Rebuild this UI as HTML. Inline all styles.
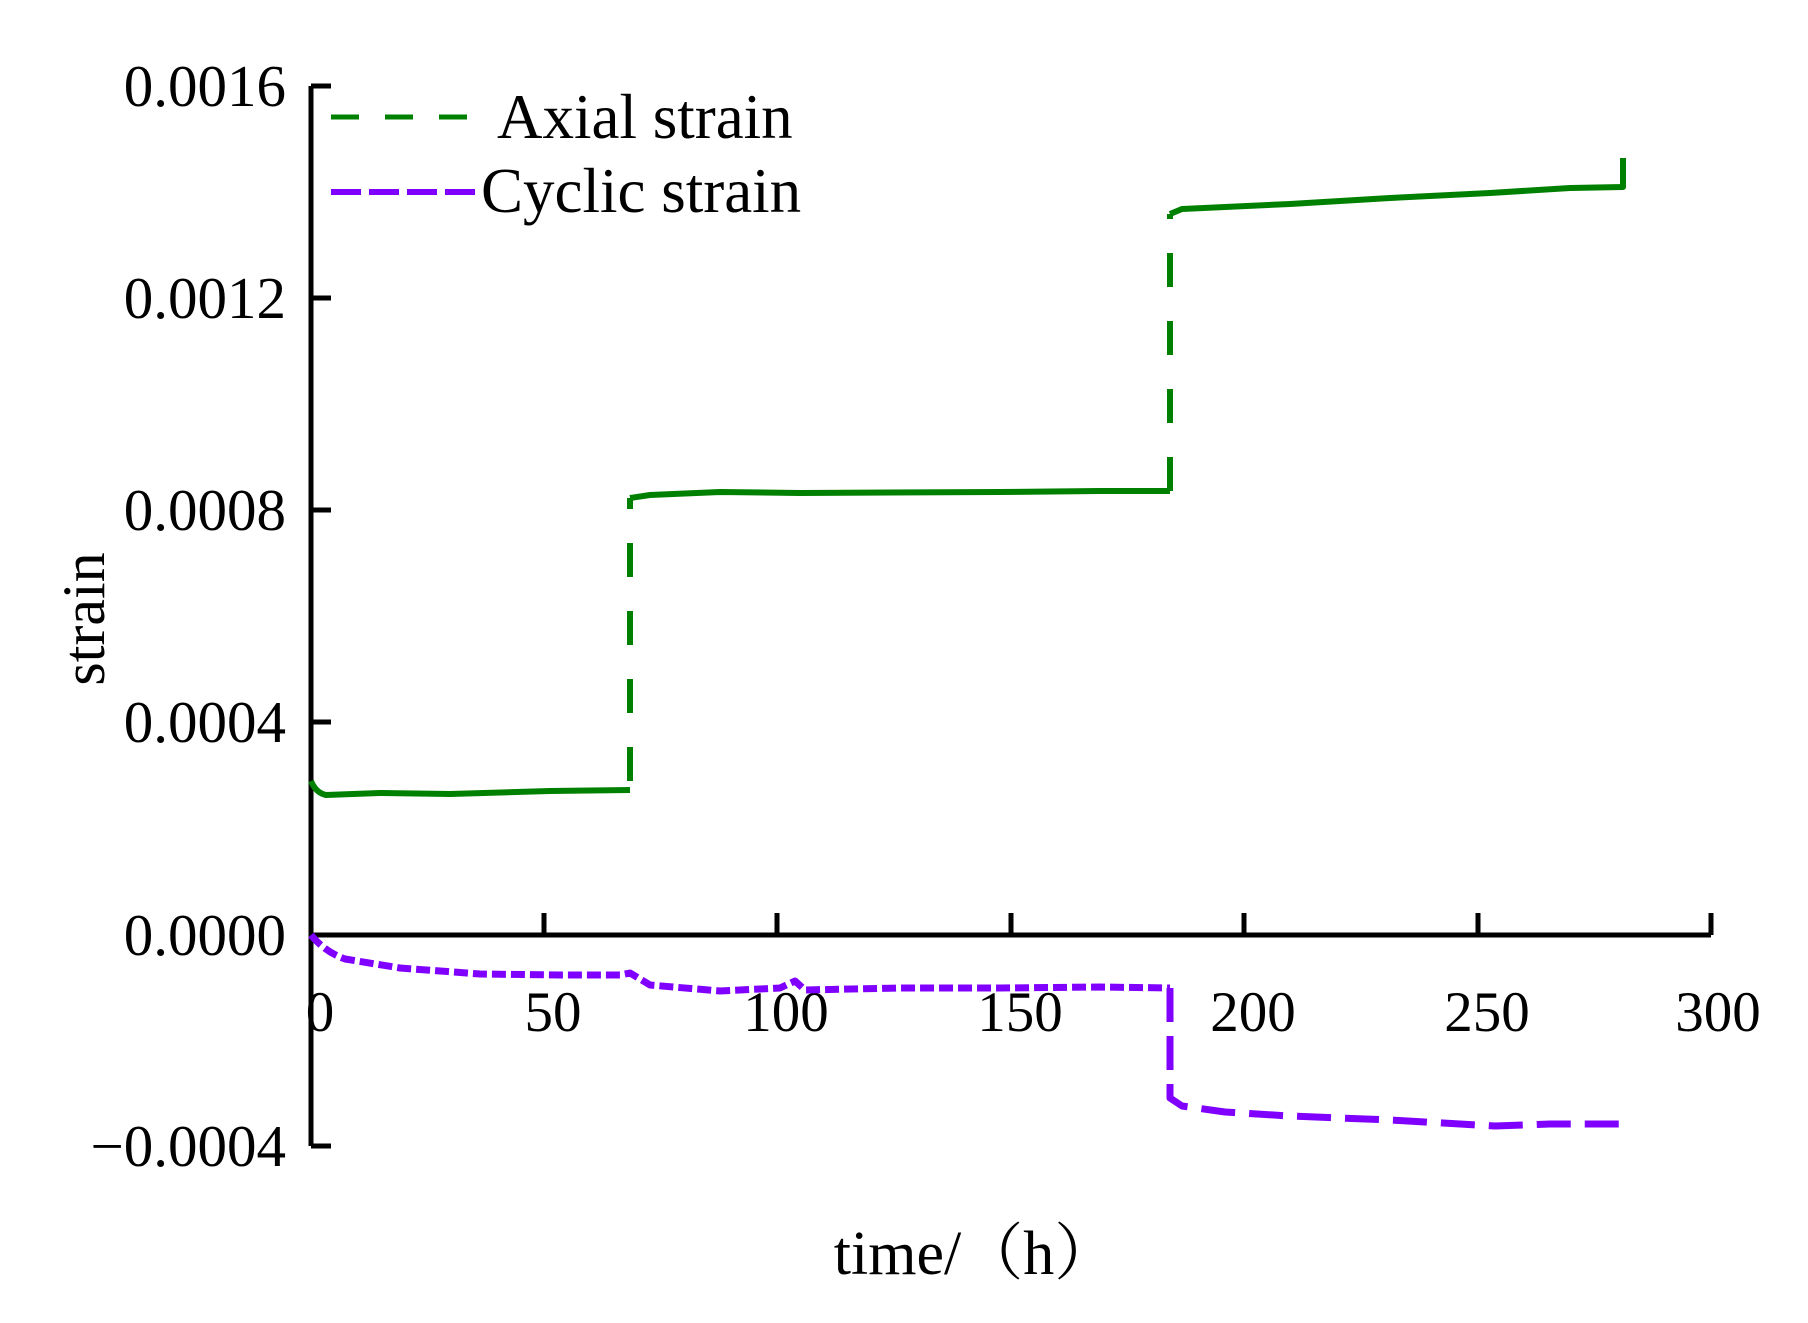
<!DOCTYPE html>
<html><head><meta charset="utf-8"><style>html,body{margin:0;padding:0;background:#fff}svg{display:block}</style></head>
<body>
<svg width="1808" height="1323" viewBox="0 0 1808 1323" xmlns="http://www.w3.org/2000/svg" font-family="'Liberation Serif', 'Noto Serif CJK SC', serif">
<rect width="1808" height="1323" fill="#fff"/>
<g stroke="#000" stroke-width="5" fill="none">
<path d="M311,86 V1146"/>
<path d="M311,935 H1711"/>
<path d="M311,86 H331 M311,298 H331 M311,510 H331 M311,722 H331 M311,1146 H331"/>
<path d="M544,935 V913 M777,935 V913 M1011,935 V913 M1244,935 V913 M1478,935 V913 M1711,935 V913"/>
</g>
<g font-size="59" fill="#000" text-anchor="end">
<text x="286" y="106">0.0016</text>
<text x="286" y="318">0.0012</text>
<text x="286" y="530">0.0008</text>
<text x="286" y="742">0.0004</text>
<text x="286" y="955">0.0000</text>
<text x="286" y="1166">−0.0004</text>
</g>
<g font-size="57" fill="#000" text-anchor="middle">
<text x="320" y="1031">0</text>
<text x="553" y="1031">50</text>
<text x="786" y="1031">100</text>
<text x="1020" y="1031">150</text>
<text x="1253" y="1031">200</text>
<text x="1487" y="1031">250</text>
<text x="1718" y="1031">300</text>
</g>
<text x="975" y="1274" font-size="62" text-anchor="middle">time/（h）</text>
<text transform="translate(104,619) rotate(-90)" font-size="60" text-anchor="middle">strain</text>
<path d="M331,117 H478" stroke="#008000" stroke-width="5" stroke-dasharray="28,26"/>
<text x="497" y="138" font-size="63">Axial strain</text>
<path d="M331,192 H478" stroke="#8000ff" stroke-width="6" stroke-dasharray="30,8"/>
<text x="481" y="212" font-size="63">Cyclic strain</text>
<g stroke="#008000" stroke-width="6" fill="none" stroke-linejoin="round">
<path d="M311,781 Q316,793 326,795 L380,793 L450,794 L550,791 L630,790"/>
<path d="M630,791 V498" stroke-dasharray="34,34" stroke-dashoffset="-10"/>
<path d="M630,498 L650,495 L720,492 L800,493 L1000,492 L1100,491 L1170,491"/>
<path d="M1170,491 V214" stroke-dasharray="34,34"/>
<path d="M1170,214 L1182,209 L1290,204 L1390,198 L1490,193 L1570,188 L1623,187 V158"/>
</g>
<g stroke="#8000ff" stroke-width="7" fill="none" stroke-linejoin="round" stroke-dasharray="14,5">
<path d="M311,935 Q325,952 345,959 L400,968 L480,974 L560,975 L620,975 L630,973 L650,985 L720,991 L780,988 L795,981 L805,990 L900,988 L1000,988 L1100,987 L1170,988"/>
<path d="M1170,988 V1098 L1182,1106 L1225,1112 L1290,1116 L1390,1120 L1495,1126 L1550,1124 L1626,1124" stroke-dasharray="34,14"/>
</g>
</svg>
</body></html>
